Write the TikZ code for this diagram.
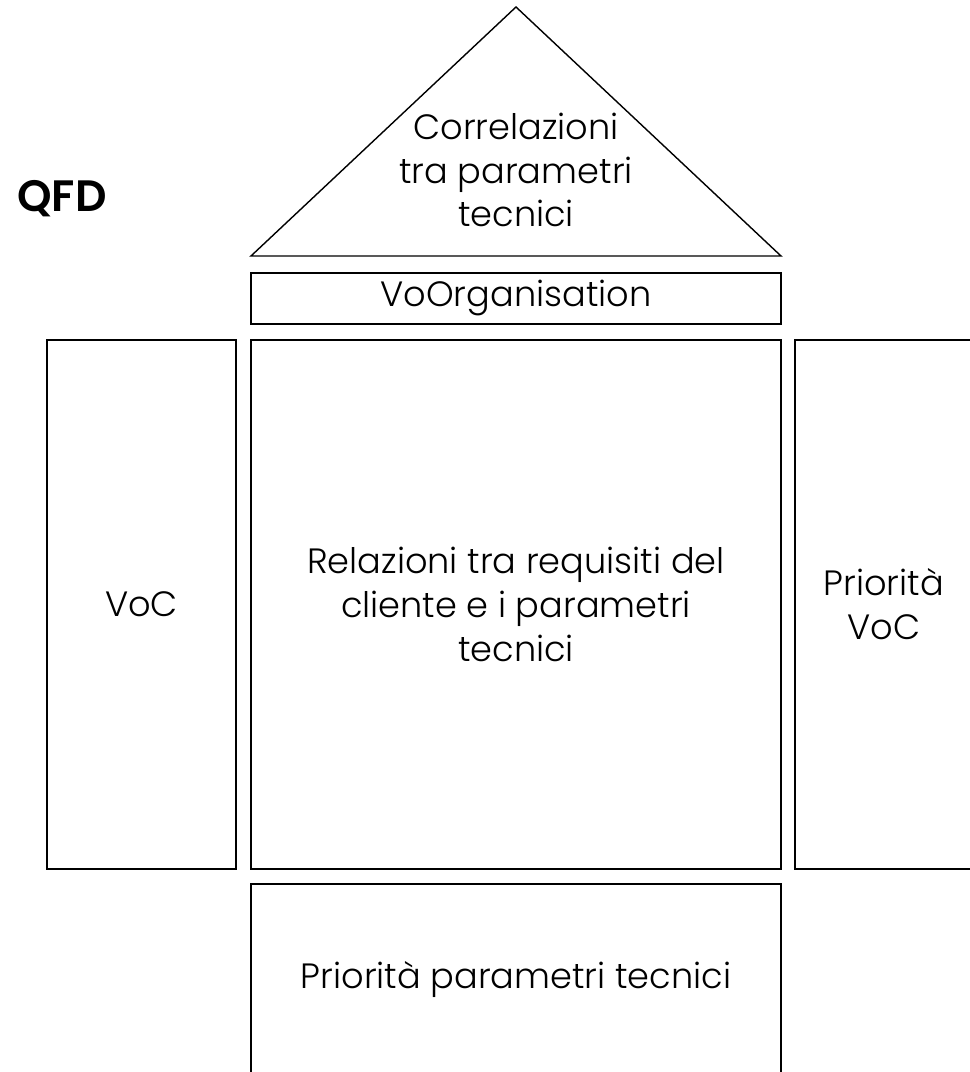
\documentclass[tikz,border=0pt]{standalone}
\usepackage{fontspec}
\setmainfont{Poppins}[UprightFont=* Light, BoldFont=* SemiBold]

\tikzset{
    panel/.style={draw, line width=0.8pt, align=center, inner sep=0pt,
        font=\fontsize{20}{25}\selectfont},
}

\begin{document}
\begin{tikzpicture}
    \useasboundingbox (0,0) rectangle (19.4,21.44);
    \clip (0,0) rectangle (19.4,21.44);
    \node[font=\fontsize{25}{28}\selectfont\bfseries] (qfd) at (1.24,17.47) {QFD};
    % roof
    \coordinate (apex) at (10.32,21.3);
    \coordinate (eaveL) at (5.02,16.32);
    \coordinate (eaveR) at (15.62,16.32);
    \draw[line width=0.8pt] (eaveL) -- (apex) -- (eaveR) -- cycle;
    \node[align=center, font=\fontsize{20}{25}\selectfont] (corr) at (10.32,18.04) {Correlazioni\\tra parametri\\tecnici};
    \node[panel, minimum width=10.6cm, minimum height=1.02cm] (voorg) at (10.32,15.47) {VoOrganisation};
    % rooms
    \node[panel, minimum width=3.78cm, minimum height=10.58cm] (voc) at (2.83,9.35) {VoC};
    \node[panel, minimum width=10.6cm, minimum height=10.58cm] (rel) at (10.32,9.35) {Relazioni tra requisiti del\\cliente e i parametri\\tecnici};
    \node[panel, minimum width=3.55cm, minimum height=10.58cm] (prvoc) at (17.675,9.35) {Priorità\\VoC};
    \node[panel, minimum width=10.6cm, minimum height=3.84cm] (prpar) at (10.32,1.84) {Priorità parametri tecnici};
\end{tikzpicture}
\end{document}
